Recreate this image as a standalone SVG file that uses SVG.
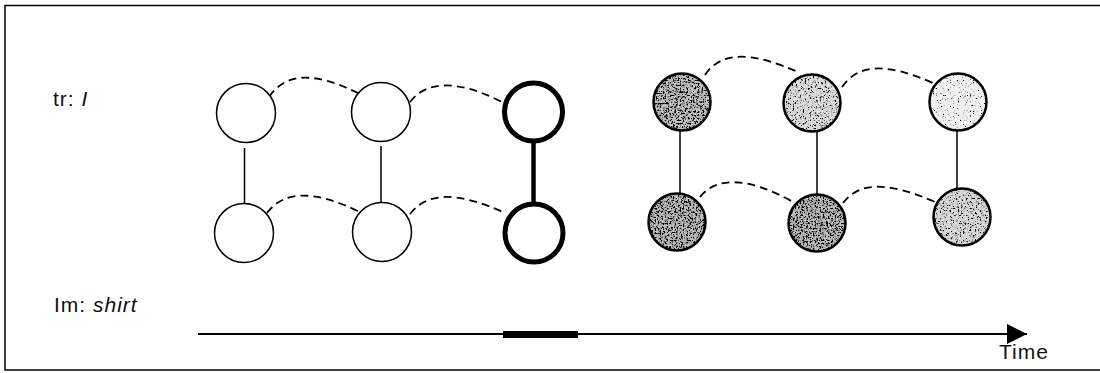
<svg xmlns="http://www.w3.org/2000/svg" width="1100" height="373" viewBox="0 0 1100 373">
  <style>
    .lbl { font-family: "Liberation Sans", Arial, sans-serif; font-size: 21px; fill: #111; letter-spacing: 1px; }
    .it { font-style: italic; }
    .node { fill: #fff; stroke: #000; stroke-width: 1.5; }
    .bold { fill: #fff; stroke: #000; stroke-width: 5; }
    .ring { fill: none; stroke: #000; stroke-width: 2.5; }
    .dash { fill: none; stroke: #000; stroke-width: 1.8; stroke-dasharray: 8 5; }
    .link { stroke: #000; stroke-width: 1.5; }
    .boldlink { stroke: #000; stroke-width: 4.5; }
  </style>
  <defs>
    <filter id="stipDark" x="0" y="0" width="100%" height="100%">
      <feTurbulence type="fractalNoise" baseFrequency="0.6" numOctaves="2" seed="4" result="n"/>
      <feColorMatrix in="n" type="matrix" values="0 0 0 0 0  0 0 0 0 0  0 0 0 0 0  7 0 0 0 -3.3" result="dots"/>
      <feComposite in="dots" in2="SourceGraphic" operator="in" result="d2"/>
      <feMerge><feMergeNode in="SourceGraphic"/><feMergeNode in="d2"/></feMerge>
    </filter>
    <filter id="stipMid" x="0" y="0" width="100%" height="100%">
      <feTurbulence type="fractalNoise" baseFrequency="0.6" numOctaves="2" seed="9" result="n"/>
      <feColorMatrix in="n" type="matrix" values="0 0 0 0 0  0 0 0 0 0  0 0 0 0 0  7 0 0 0 -3.8" result="dots"/>
      <feComposite in="dots" in2="SourceGraphic" operator="in" result="d2"/>
      <feMerge><feMergeNode in="SourceGraphic"/><feMergeNode in="d2"/></feMerge>
    </filter>
    <filter id="stipLight" x="0" y="0" width="100%" height="100%">
      <feTurbulence type="fractalNoise" baseFrequency="0.6" numOctaves="2" seed="13" result="n"/>
      <feColorMatrix in="n" type="matrix" values="0 0 0 0 0  0 0 0 0 0  0 0 0 0 0  7 0 0 0 -4.3" result="dots"/>
      <feComposite in="dots" in2="SourceGraphic" operator="in" result="d2"/>
      <feMerge><feMergeNode in="SourceGraphic"/><feMergeNode in="d2"/></feMerge>
    </filter>
    <marker id="arrow" viewBox="0 0 20 20" refX="20" refY="10" markerWidth="20" markerHeight="20" markerUnits="userSpaceOnUse" orient="auto">
      <path d="M0,0 L20,10 L0,20 Z" fill="#000"/>
    </marker>
  </defs>

  <rect x="5" y="5.5" width="1110" height="364.5" fill="#fff" stroke="#000" stroke-width="1.5"/>

  <g id="labels">
    <text class="lbl" x="53" y="106">tr: <tspan class="it">I</tspan></text>
    <text class="lbl" x="54" y="312">Im: <tspan class="it">shirt</tspan></text>
    <text class="lbl" x="999" y="359">Time</text>
  </g>

  <g id="connectors">
    <line class="link" x1="244.5" y1="148" x2="244.5" y2="204"/>
    <line class="link" x1="381" y1="146" x2="381" y2="204"/>
    <line class="boldlink" x1="533.5" y1="142" x2="533.5" y2="204"/>
    <line class="link" x1="680" y1="131" x2="680" y2="194" stroke-width="2"/>
    <line class="link" x1="817" y1="132" x2="817" y2="195" stroke-width="2"/>
    <line class="link" x1="957" y1="131" x2="957" y2="189" stroke-width="2"/>

    <path class="dash" d="M269,97 C285,74 310,70 358,93"/>
    <path class="dash" d="M410,102 C425,82 455,78 502,102"/>
    <path class="dash" d="M267,213 C283,192 310,188 360,212"/>
    <path class="dash" d="M410,214 C426,193 455,190 505,213"/>
    <path class="dash" d="M705,75 C720,52 750,50 800,73"/>
    <path class="dash" d="M842,87 C858,64 885,62 933,83"/>
    <path class="dash" d="M700,197 C715,178 745,175 793,202"/>
    <path class="dash" d="M843,203 C858,183 885,180 935,202"/>

    <line x1="198" y1="334" x2="1027" y2="334" stroke="#000" stroke-width="2" marker-end="url(#arrow)"/>
    <rect x="503" y="331" width="75" height="7" fill="#000"/>
  </g>

  <g id="n-t1"><circle class="node" cx="246" cy="113" r="29.5"/></g>
  <g id="n-t2"><circle class="node" cx="381" cy="112" r="29.5"/></g>
  <g id="n-t3"><circle class="bold" cx="533.5" cy="112" r="29"/></g>
  <g id="n-b1"><circle class="node" cx="244" cy="233" r="29.5"/></g>
  <g id="n-b2"><circle class="node" cx="382" cy="232" r="29.5"/></g>
  <g id="n-b3"><circle class="bold" cx="534" cy="233" r="29"/></g>

  <g id="r-t1"><circle cx="682" cy="102" r="28.5" fill="#c4c4c4" filter="url(#stipDark)"/><circle class="ring" cx="682" cy="102" r="28.5"/></g>
  <g id="r-t2"><circle cx="812" cy="103" r="28.5" fill="#dcdcdc" filter="url(#stipMid)"/><circle class="ring" cx="812" cy="103" r="28.5"/></g>
  <g id="r-t3"><circle cx="958" cy="102" r="28.5" fill="#f0f0f0" filter="url(#stipLight)"/><circle class="ring" cx="958" cy="102" r="28.5"/></g>
  <g id="r-b1"><circle cx="677" cy="222" r="28.5" fill="#bcbcbc" filter="url(#stipDark)"/><circle class="ring" cx="677" cy="222" r="28.5"/></g>
  <g id="r-b2"><circle cx="817" cy="223" r="28.5" fill="#bcbcbc" filter="url(#stipDark)"/><circle class="ring" cx="817" cy="223" r="28.5"/></g>
  <g id="r-b3"><circle cx="962" cy="217" r="28.5" fill="#d8d8d8" filter="url(#stipMid)"/><circle class="ring" cx="962" cy="217" r="28.5"/></g>
</svg>
